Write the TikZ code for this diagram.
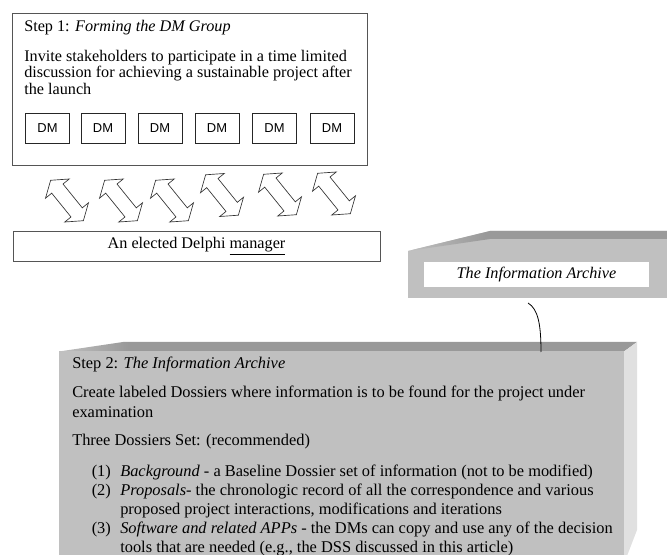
\documentclass[tikz,border=0pt]{standalone}
\usepackage{fontspec}
\setmainfont{Liberation Serif}
\newfontfamily\dmfont{Liberation Sans}
\usetikzlibrary{shapes.arrows}
\definecolor{frontgray}{HTML}{C0C0C0}
\definecolor{topgray}{HTML}{999999}
\definecolor{sidegray}{HTML}{E0E0E0}
\definecolor{linegray}{HTML}{555555}
\pgfdeclarehorizontalshading{archtop}{100bp}{color(0bp)=(frontgray); color(25bp)=(frontgray); color(40bp)=(topgray); color(100bp)=(topgray)}
\pgfdeclarehorizontalshading{steptop}{100bp}{color(0bp)=(frontgray); color(25bp)=(frontgray); color(31bp)=(topgray); color(100bp)=(topgray)}
\tikzset{
  stepbox/.style={draw=linegray, line width=0.6pt},
  dmbox/.style={draw=black!85, line width=0.6pt, minimum width=33pt, minimum height=22.5pt, inner sep=0pt, font=\dmfont\fontsize{9.7}{11}\selectfont},
  dblarrow/.style={double arrow, draw=black!80, fill=white, line width=0.5pt, inner xsep=0pt, inner ysep=5.2pt, minimum height=39pt, double arrow head extend=6pt, double arrow tip angle=110, rotate=-51},
  txt/.style={inner sep=0pt, anchor=base west, font=\fontsize{12.15}{14}\selectfont},
  txtb/.style={txt, font=\fontsize{12.3}{14}\selectfont},
}
\begin{document}
\begin{tikzpicture}[x=0.75pt,y=-0.75pt]
\useasboundingbox (0,0) rectangle (667,555);
% Step 1 box
\draw[stepbox] (12.5,13.5) rectangle (367,165.5);
\node[txt] (s1title) at (24,32) {Step 1: \textit{Forming the DM Group}};
\node[txt] (s1a) at (24,61.5) {Invite stakeholders to participate in a time limited};
\node[txt] (s1b) at (24,78) {discussion for achieving a sustainable project after};
\node[txt] (s1c) at (24,95) {the launch};
\foreach \i/\x in {1/47.5,2/103,3/160,4/217,5/274.5,6/332}
  \node[dmbox] (dm\i) at (\x,128) {DM};
% exchange arrows
\foreach \i/\x/\y in {1/67/200.5,2/121/200.5,3/172/200.5,4/222/195,5/280/194.5,6/334/193.5}
  \node[dblarrow] (arr\i) at (\x,\y) {};
% manager
\node[stepbox, minimum width=275.25pt, minimum height=22.5pt, inner sep=0pt, font=\fontsize{12.15}{14}\selectfont] (mgr) at (196.5,246) {An elected Delphi \underline{manager}};
% archive block
\fill[frontgray] (408,298) -- (408,251) -- (490,231) -- (667,231) -- (667,298) -- cycle;
\shade[shading=archtop] (408,251) -- (490,231) -- (667,231) -- (667,239) -- (490,239) -- cycle;
\node[fill=white, minimum width=168.75pt, minimum height=18.75pt, inner sep=0pt, font=\itshape\fontsize{12.15}{14}\selectfont] (archive) at (536.5,274.5) {The Information Archive};
% step 2 block
\shade[shading=steptop] (59,351.5) -- (123,342) -- (637,342) -- (624,351.5) -- cycle;
\fill[frontgray] (59,351.5) -- (624,351.5) -- (624,556) -- (59,556) -- cycle;
\fill[sidegray] (624,351.5) -- (637,342) -- (637,530) -- (627,556) -- (624,556) -- cycle;
\coordinate (linkstart) at (528,303);
\coordinate (linkend) at (541,352);
\draw[line width=0.6pt] (linkstart) .. controls (538,309) and (541,324) .. (linkend);
\node[txtb] (s2title) at (72,369) {Step 2: \textit{The Information Archive}};
\node[txtb] (s2a) at (72,397.5) {Create labeled Dossiers where information is to be found for the project under};
\node[txtb] (s2b) at (72,417) {examination};
\node[txtb] (s2c) at (72,445.5) {Three Dossiers Set: (recommended)};
\node[txtb] (n1) at (91.5,476) {(1)};
\node[txtb] (i1) at (120,476) {\textit{Background} - a Baseline Dossier set of information (not to be modified)};
\node[txtb] (n2) at (91.5,495) {(2)};
\node[txtb] (i2a) at (120,495) {\textit{Proposals}- the chronologic record of all the correspondence and various};
\node[txtb] (i2b) at (120,514) {proposed project interactions, modifications and iterations};
\node[txtb] (n3) at (91.5,533.5) {(3)};
\node[txtb] (i3a) at (120,533.5) {\textit{Software and related APPs} - the DMs can copy and use any of the decision};
\node[txtb] (i3b) at (120,552) {tools that are needed (e.g., the DSS discussed in this article)};
\end{tikzpicture}
\end{document}
